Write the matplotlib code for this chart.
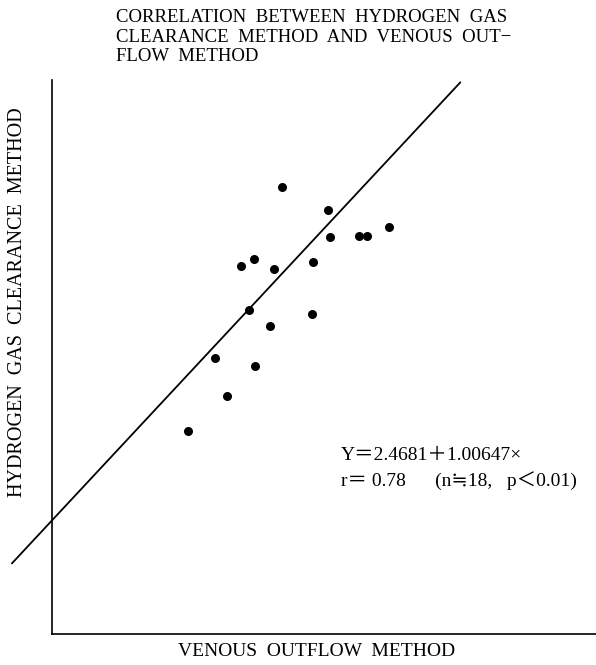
import numpy as np
import matplotlib
matplotlib.use("Agg")
import matplotlib.pyplot as plt

# Data (arbitrary units)
venous_outflow = [5.17, 6.19, 6.24, 6.89, 7.07, 7.56, 4.25, 4.52, 4.99, 5.86,
                  4.41, 5.83, 4.89, 3.66, 4.55, 3.93, 3.06]
hydrogen_clearance = [9.72, 9.21, 8.63, 8.64, 8.64, 8.84, 8.00, 8.14, 7.94, 8.09,
                      7.04, 6.96, 6.69, 5.99, 5.82, 5.18, 4.40]
intercept = 2.4681
slope_reported = 1.00647
slope_drawn = 1.039  # visual slope of the printed line
line_x_range = [-0.90, 9.16]

title = ("CORRELATION  BETWEEN  HYDROGEN  GAS\n"
         "CLEARANCE  METHOD  AND  VENOUS  OUT−\n"
         "FLOW  METHOD")
xlabel = "VENOUS  OUTFLOW  METHOD"
ylabel = "HYDROGEN  GAS  CLEARANCE  METHOD"
eq_text = "Y＝2.4681＋1.00647×"
r_text = "r＝ 0.78　  (n≒18,   p＜0.01)"

serif = ["Liberation Serif", "DejaVu Serif", "Noto Sans CJK JP", "DejaVu Sans"]
plt.rcParams["font.family"] = serif

fig = plt.figure(figsize=(5.96, 6.65), dpi=100)
ax = fig.add_axes([52/596, 31/665, 544/596, 554/665])
ax.set_xlim(0, 544/44.58)
ax.set_ylim(0, 554/46.03)

ax.scatter(venous_outflow, hydrogen_clearance, s=30, color="black", zorder=3)

lx = np.array(line_x_range)
ly = intercept * 1.0 + slope_drawn * lx
ax.plot(lx, ly, color="black", lw=1.3, clip_on=False, solid_capstyle="round")

for s in ["top", "right"]:
    ax.spines[s].set_visible(False)
for s in ["left", "bottom"]:
    ax.spines[s].set_linewidth(1.2)
ax.set_xticks([])
ax.set_yticks([])

fig.text(116/596, 1 - 9/665, title, ha="left", va="top", fontsize=13.5,
         linespacing=1.21)
fig.text(317/596, 1 - 652/665, xlabel, ha="center", va="center", fontsize=14)
fig.text(18/596, 1 - 302/665, ylabel, ha="center", va="center", fontsize=14.5,
         rotation=90)
fig.text(341/596, 1 - 455/665, eq_text, ha="left", va="center", fontsize=14)
fig.text(341/596, 1 - 481/665, r_text, ha="left", va="center", fontsize=14)

fig.savefig("out.png", dpi=100)
